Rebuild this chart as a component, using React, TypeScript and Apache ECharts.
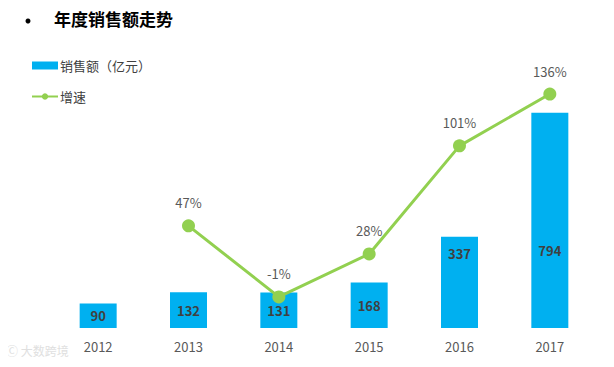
import React, { useEffect, useRef } from "react";
import * as echarts from "echarts";

const years = ["2012", "2013", "2014", "2015", "2016", "2017"];
const sales = [90, 132, 131, 168, 337, 794];
const growth: (number | string)[] = ["-", 47, -1, 28, 101, 136];
const barLabelDist = [0, 0, 0, 0, 68, 71];

const FONT = "'Microsoft YaHei', 'Noto Sans CJK SC', sans-serif";

export default function App() {
  const ref = useRef<HTMLDivElement>(null);
  useEffect(() => {
    const chart = echarts.init(ref.current!, null, { renderer: "svg" });
    chart.setOption({
      animation: false,
      backgroundColor: "#ffffff",
      textStyle: { fontFamily: FONT },
      graphic: [
        { type: "circle", shape: { cx: 28, cy: 21, r: 2.5 }, style: { fill: "#000" } },
        {
          type: "text",
          left: 54,
          top: 10,
          style: { text: "年度销售额走势", fontSize: 17, fontWeight: "bold", fill: "#000", fontFamily: FONT },
        },
        {
          type: "text",
          left: 6,
          top: 344,
          style: { text: "Ⓒ 大数跨境", fontSize: 12, fill: "#e0e0e0", fontFamily: FONT },
        },
      ],
      legend: {
        orient: "vertical",
        left: 26,
        top: 54,
        itemGap: 18,
        itemWidth: 26,
        itemHeight: 8,
        textStyle: { fontSize: 13, color: "#404040", fontFamily: FONT, padding: [0, 0, 0, -3] },
        data: [
          { name: "销售额（亿元）", icon: "rect" },
          { name: "增速" },
        ],
      },
      grid: { left: 53, right: 19, top: 57, bottom: 39 },
      xAxis: {
        type: "category",
        data: years,
        axisLine: { show: false },
        axisTick: { show: false },
        axisLabel: { color: "#595959", fontSize: 13, margin: 12, fontFamily: FONT },
      },
      yAxis: [
        { type: "value", min: 0, max: 1000, show: false, splitLine: { show: false } },
        { type: "value", min: -22, max: 161, show: false, splitLine: { show: false } },
      ],
      series: [
        {
          name: "销售额（亿元）",
          type: "bar",
          barWidth: 37,
          itemStyle: { color: "#00b0f0" },
          label: {
            show: true,
            position: "inside",
            color: "#404040",
            fontSize: 13,
            fontWeight: "bold",
            fontFamily: FONT,
          },
          data: sales.map((v, i) =>
            barLabelDist[i] > 0
              ? { value: v, label: { position: "insideBottom", distance: barLabelDist[i] } }
              : v
          ),
        },
        {
          name: "增速",
          type: "line",
          yAxisIndex: 1,
          symbol: "circle",
          symbolSize: 13,
          lineStyle: { color: "#92d050", width: 3 },
          itemStyle: { color: "#92d050" },
          label: {
            show: true,
            position: "top",
            distance: 10,
            color: "#595959",
            fontSize: 13,
            fontFamily: FONT,
            formatter: "{c}%",
          },
          data: growth,
        },
      ],
    });
    return () => chart.dispose();
  }, []);
  return <div ref={ref} style={{ width: 614, height: 367, margin: -8 }} />;
}
